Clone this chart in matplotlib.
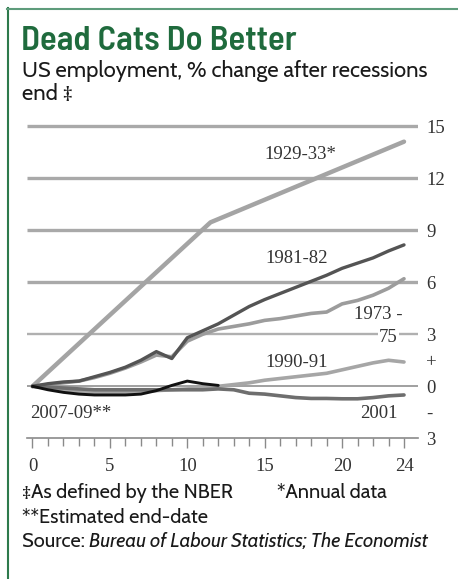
import matplotlib
matplotlib.use("Agg")
import matplotlib.pyplot as plt
from matplotlib.lines import Line2D

# months after the recession ended
months = list(range(25))

# % change in US employment, read per month
emp_1929_months = [0, 11.5, 24]          # annual data
emp_1929 = [0.0, 9.45, 14.1]
emp_1973 = [0.0, 0.1, 0.2, 0.3, 0.5, 0.75, 1.05, 1.4, 1.8, 1.7, 2.6, 3.0, 3.3,
            3.45, 3.6, 3.8, 3.9, 4.05, 4.2, 4.28, 4.75, 4.95, 5.25, 5.65, 6.2]
emp_1981 = [0.0, 0.15, 0.25, 0.3, 0.55, 0.8, 1.1, 1.5, 2.0, 1.6, 2.8, 3.2, 3.6,
            4.1, 4.6, 5.0, 5.35, 5.7, 6.05, 6.4, 6.8, 7.1, 7.4, 7.8, 8.15]
emp_1990 = [0.0, -0.1, -0.2, -0.3, -0.35, -0.35, -0.35, -0.3, -0.25, -0.2, -0.15,
            -0.1, 0.0, 0.1, 0.2, 0.35, 0.45, 0.55, 0.65, 0.75, 0.95, 1.15, 1.35, 1.5, 1.4]
emp_2001 = [0.0, -0.05, -0.1, -0.15, -0.2, -0.2, -0.2, -0.2, -0.2, -0.2, -0.2,
            -0.2, -0.15, -0.2, -0.4, -0.45, -0.55, -0.65, -0.7, -0.7, -0.72, -0.72,
            -0.65, -0.55, -0.5]
emp_2007_months = list(range(13))
emp_2007 = [0.0, -0.2, -0.35, -0.45, -0.5, -0.5, -0.5, -0.45, -0.25, 0.05, 0.3, 0.15, 0.05]

grid_major = [15, 12, 9, 6]
ytick_vals = [15, 12, 9, 6, 3, 1.5, 0, -1.5, -3]
ytick_text = ["15", "12", "9", "6", "3", "+", "0", "-", "3"]
xtick_vals = [0, 5, 10, 15, 20, 24]

W, H = 458, 579
GREEN = "#1f6b3d"
SERIF = "Liberation Serif"
SANS = ["Cabin", "Lato", "DejaVu Sans"]
TITLE = ["Barlow Semi Condensed", "PT Sans Narrow", "DejaVu Sans"]

fig = plt.figure(figsize=(W / 100, H / 100), dpi=100)
fig.patch.set_facecolor("white")

# axes placed in pixel terms: x 0..24 -> 32.5..404 px, y 15..-3 -> 126..438 px
ax_l, ax_r, ax_t, ax_b = 27, 418, 110, 455
ax = fig.add_axes([ax_l / W, 1 - ax_b / H, (ax_r - ax_l) / W, (ax_b - ax_t) / H])
px_x = 15.48
px_y = 17.35
ax.set_xlim(-(32.5 - ax_l) / px_x, 24 + (ax_r - 404) / px_x)
ax.set_ylim((386.3 - ax_b) / px_y, (386.3 - ax_t) / px_y)
ax.set_facecolor("none")

for s in ["top", "left", "right"]:
    ax.spines[s].set_visible(False)
ax.spines["bottom"].set_position(("data", -3))
ax.spines["bottom"].set_color("#8a8a8a")
ax.spines["bottom"].set_linewidth(1.2)

# gridlines
xmin, xmax = ax.get_xlim()
ax.hlines(grid_major, xmin, xmax, color="#a9a9a9", lw=2.4, zorder=1)
ax.hlines([3], xmin, xmax, color="#b0b0b0", lw=1.7, zorder=1)
ax.hlines([0], xmin, xmax, color="#a0a0a0", lw=1.4, zorder=1)

# series
ax.plot(emp_1929_months, emp_1929, color="#a4a4a4", lw=3.2, zorder=3,
        solid_joinstyle="round", solid_capstyle="round")
ax.plot(months, emp_1973, color="#9c9c9c", lw=2.6, zorder=3, solid_capstyle="round")
ax.plot(months, emp_1981, color="#545454", lw=2.4, zorder=4, solid_capstyle="round")
ax.plot(months, emp_1990, color="#a6a6a6", lw=2.6, zorder=3, solid_capstyle="round")
ax.plot(months, emp_2001, color="#6e6e6e", lw=2.6, zorder=3, solid_capstyle="round")
ax.plot(emp_2007_months, emp_2007, color="#111111", lw=2.1, zorder=5, solid_capstyle="round")

# series labels
lab = dict(family=SERIF, fontsize=13.5, color="#333333", va="center")
ax.text(17.28, 13.34, "1929-33*", ha="center", **lab)
ax.text(17.09, 7.39, "1981-82", ha="center", **lab)
ax.text(23.93, 4.11, "1973 -", ha="right", **lab)
ax.text(23.61, 2.84, "75", ha="right", zorder=6,
        bbox=dict(facecolor="white", edgecolor="none", pad=1.0), **lab)
ax.text(17.09, 1.40, "1990-91", ha="center", **lab)
ax.text(-0.16, -1.54, "2007-09**", ha="left", **lab)
ax.text(23.61, -1.54, "2001", ha="right", **lab)

# x axis ticks on the -3 line
ax.set_xticks(xtick_vals)
ax.set_xticks(months, minor=True)
ax.tick_params(axis="x", which="major", length=7.5, width=1.0, color="#8a8a8a",
               pad=6.5, labelsize=13.5, labelcolor="#333333")
ax.tick_params(axis="x", which="minor", length=6, width=1.0, color="#8a8a8a")
for t in ax.get_xticklabels():
    t.set_family(SERIF)

# y labels on the right
ax.yaxis.tick_right()
ax.set_yticks(ytick_vals)
ax.set_yticklabels(ytick_text)
ax.tick_params(axis="y", length=0, pad=6, labelsize=13.5, labelcolor="#333333")
for t in ax.get_yticklabels():
    t.set_family(SERIF)

# header
fig.text(21 / W, 1 - 50 / H, "Dead Cats Do Better", family=TITLE,
         fontweight="semibold", fontsize=25, color=GREEN, va="baseline")
fig.text(22 / W, 1 - 77 / H, "US employment, % change after recessions",
         family=SANS, fontsize=15.8, color="#1a1a1a", va="baseline")
fig.text(22 / W, 1 - 100 / H, "end \u2021", family=SANS, fontsize=15.8,
         color="#1a1a1a", va="baseline")

# notes
note = dict(family=SANS, fontsize=14.4, color="#1a1a1a", va="baseline")
fig.text(22 / W, 1 - 498 / H, "\u2021As defined by the NBER", **note)
fig.text(277 / W, 1 - 498 / H, "*Annual data", **note)
fig.text(22 / W, 1 - 523 / H, "**Estimated end-date", **note)
src = fig.text(22 / W, 1 - 547 / H, "Source: ", **note)
fig.canvas.draw()
bb = src.get_window_extent()
fig.text(bb.x1 / W, 1 - 547 / H, "Bureau of Labour Statistics; The Economist",
         style="italic", **note)

# green frame
fig.add_artist(Line2D([7.5 / W, 7.5 / W], [0, 1 - 8 / H], color="#2e7a4c", lw=1.5))
fig.add_artist(Line2D([7 / W, 1], [1 - 8.5 / H, 1 - 8.5 / H], color="#5e9c7b", lw=1.5))

fig.savefig("out.png", dpi=100, facecolor="white")
